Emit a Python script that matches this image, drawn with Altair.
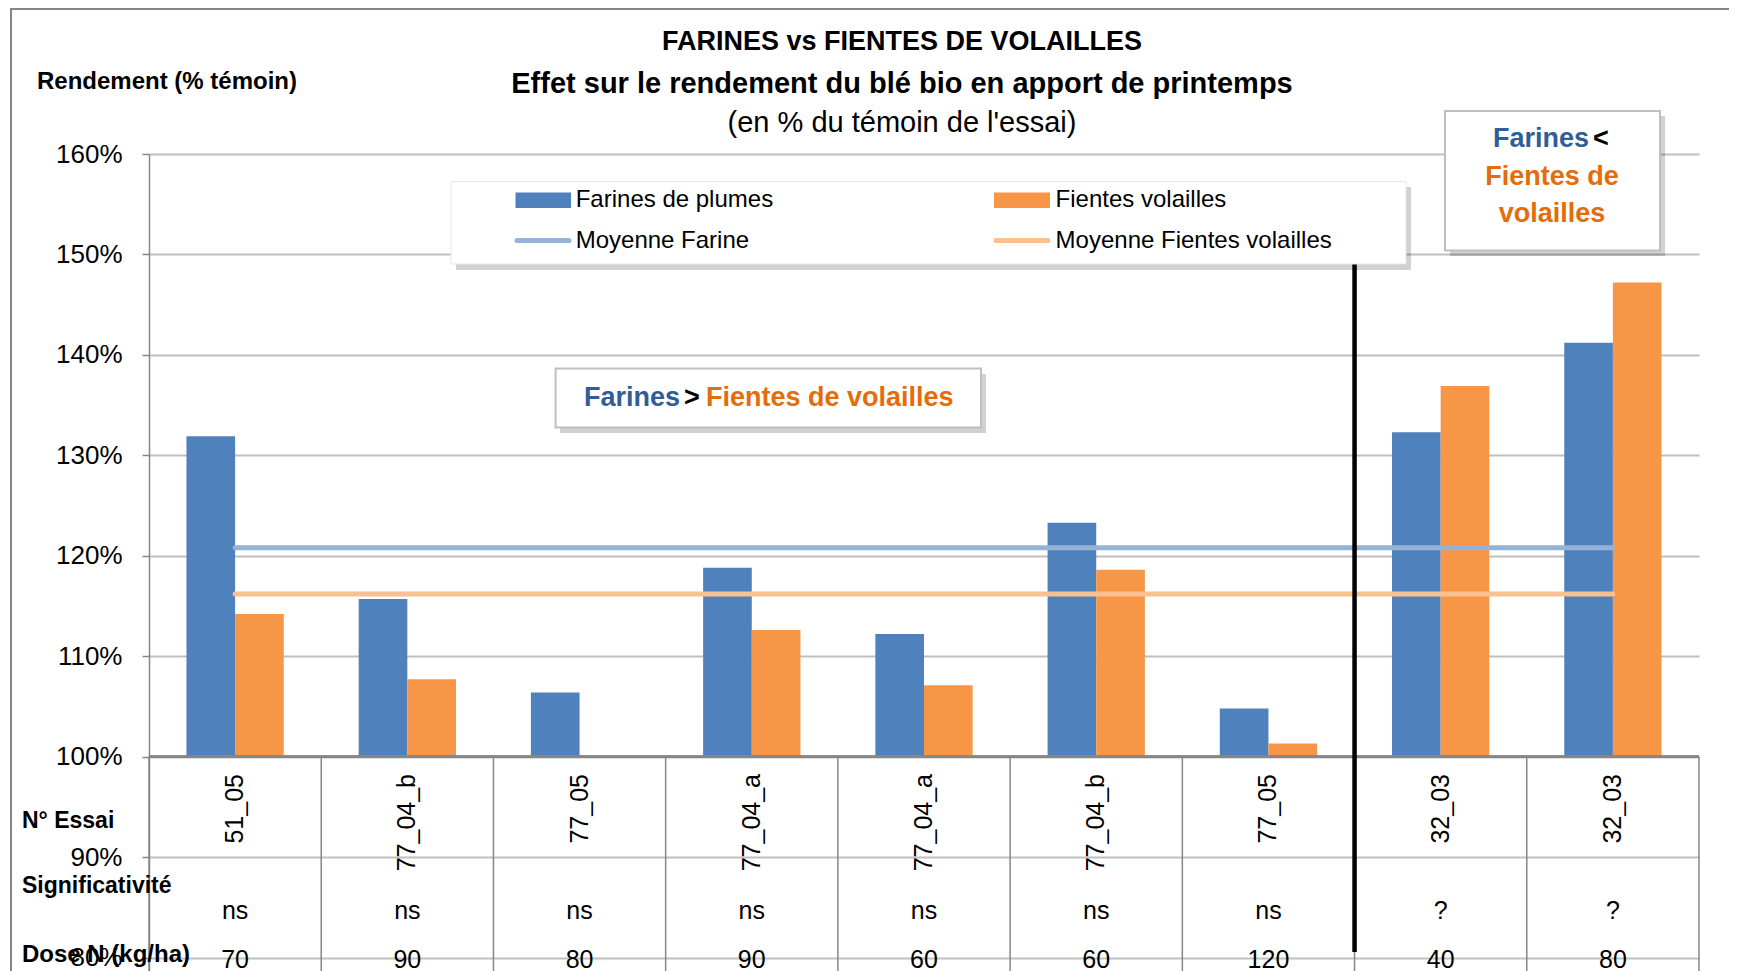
import altair as alt
import pandas as pd

# ---------------- data ----------------
essais = ["51_05", "77_04_b", "77_05", "77_04_a", "77_04_a", "77_04_b", "77_05", "32_03", "32_03"]
farines = [131.9, 115.7, 106.4, 118.8, 112.2, 123.3, 104.8, 132.3, 141.2]
fientes = [114.2, 107.7, None, 112.6, 107.1, 118.6, 101.3, 136.9, 147.2]
signif = ["ns", "ns", "ns", "ns", "ns", "ns", "ns", "?", "?"]
dose = ["70", "90", "80", "90", "60", "60", "120", "40", "80"]
moy_farine = 120.8
moy_fientes = 116.2
y_ticks = [70, 80, 90, 100, 110, 120, 130, 140, 150, 160]
series_names = ["Farines de plumes", "Fientes volailles"]

BLUE = "#4F81BD"
ORANGE = "#F79646"
BLUE_L = "#95B3D7"
ORANGE_L = "#FAC090"
DARKBLUE = "#2F5E96"
DARKORANGE = "#E46C0A"
CAL = "Liberation Sans Narrow, Liberation Sans, sans-serif"
ARIAL = "Liberation Sans, Arial, sans-serif"

W, H = 1550, 904
pos = list(range(len(essais)))

rows = []
for i in pos:
    rows.append({"pos": i, "serie": series_names[0], "value": farines[i], "base": 100})
    if fientes[i] is not None:
        rows.append({"pos": i, "serie": series_names[1], "value": fientes[i], "base": 100})
bars_df = pd.DataFrame(rows)
cat_df = pd.DataFrame({"pos": pos, "essai": essais, "signif": signif, "dose": dose,
                       "top": [100] * len(pos), "bottom": [70] * len(pos),
                       "mf": [moy_farine] * len(pos), "mv": [moy_fientes] * len(pos)})
one = pd.DataFrame({"k": [0]})

ys = alt.Scale(domain=[70, 160], nice=False, zero=False)
xs = alt.Scale(paddingInner=0, paddingOuter=0)
yaxis = alt.Axis(
    values=y_ticks, labelExpr="datum.value + '%'", grid=True, gridColor="#BFBFBF", gridWidth=2,
    domainColor="#868686", domainWidth=1.5, tickColor="#868686", tickSize=7, tickWidth=1.5,
    labelFont=CAL, labelFontSize=26, labelColor="black", labelPadding=20, title=None)

def X(**kw):
    return alt.X("pos:O", scale=xs, axis=None, **kw)

def Y(field):
    return alt.Y(field, scale=ys, axis=yaxis)

def txt(s, x, y, size, bold=False, color="black", align="center", font=CAL, angle=0):
    return alt.Chart(one).mark_text(text=s, align=align, baseline="middle", fontSize=size,
                                    fontWeight="bold" if bold else "normal", font=font,
                                    color=color, angle=angle).encode(x=alt.value(x), y=alt.value(y))

def box(x1, y1, x2, y2, fill="white", stroke="white", sw=0, opacity=1.0):
    return alt.Chart(one).mark_rect(fill=fill, stroke=stroke, strokeWidth=sw, opacity=opacity).encode(
        x=alt.value(x1), x2=alt.value(x2), y=alt.value(y1), y2=alt.value(y2))

# outer frame
frame = alt.Chart(one).mark_rect(fillOpacity=0, stroke="#868686", strokeWidth=2).encode(
    x=alt.value(-138), x2=alt.value(W + 300), y=alt.value(-145), y2=alt.value(H + 300))

bars = alt.Chart(bars_df).mark_bar().encode(
    x=X(),
    xOffset=alt.XOffset("serie:N", scale=alt.Scale(domain=series_names, paddingInner=0, paddingOuter=0.77)),
    y=Y("value:Q"),
    y2="base:Q",
    color=alt.Color("serie:N", scale=alt.Scale(domain=series_names, range=[BLUE, ORANGE]), legend=None),
)

xaxis = alt.Chart(cat_df).mark_rule(color="#868686", strokeWidth=2).encode(
    y=Y("top:Q"), x=alt.value(0), x2=alt.value(W))

seps = alt.Chart(cat_df).mark_rule(color="#868686", strokeWidth=1.5).encode(
    x=X(bandPosition=0), y=Y("top:Q"), y2="bottom:Q")
seps_end = alt.Chart(cat_df).transform_filter("datum.pos == 8").mark_rule(color="#868686", strokeWidth=1.5).encode(
    x=X(bandPosition=1), y=Y("top:Q"), y2="bottom:Q")

mean_f = alt.Chart(cat_df).mark_line(color=BLUE_L, strokeWidth=5, strokeCap="round").encode(
    x=X(), y=Y("mf:Q"))
mean_v = alt.Chart(cat_df).mark_line(color=ORANGE_L, strokeWidth=5, strokeCap="round").encode(
    x=X(), y=Y("mv:Q"))

black = alt.Chart(cat_df).transform_filter("datum.pos == 7").mark_rule(color="black", strokeWidth=4.5).encode(
    x=X(bandPosition=0), y=alt.value(60), y2=alt.value(798))

cat_lab = alt.Chart(cat_df).mark_text(angle=270, align="right", baseline="middle", font=ARIAL,
                                      fontSize=25, color="black").encode(
    x=X(), y=alt.value(620), text="essai:N")
sig_lab = alt.Chart(cat_df).mark_text(baseline="middle", font=CAL, fontSize=25, color="black").encode(
    x=X(), y=alt.value(757), text="signif:N")
dose_lab = alt.Chart(cat_df).mark_text(baseline="middle", font=CAL, fontSize=25, color="black").encode(
    x=X(), y=alt.value(806), text="dose:N")

# legend
leg = [
    box(307, 33, 1262, 116, fill="#000", opacity=0.18),
    box(302, 27.5, 1257, 110, fill="white", stroke="#E6E6E6", sw=1),
    box(366.5, 38.6, 422, 54, fill=BLUE),
    box(845, 38.6, 901, 54, fill=ORANGE),
    alt.Chart(one).mark_rule(color=BLUE_L, strokeWidth=5, strokeCap="round").encode(
        x=alt.value(368), x2=alt.value(420), y=alt.value(86.5)),
    alt.Chart(one).mark_rule(color=ORANGE_L, strokeWidth=5, strokeCap="round").encode(
        x=alt.value(847), x2=alt.value(899), y=alt.value(86.5)),
    txt("Farines de plumes", 426.7, 46.4, 24, align="left"),
    txt("Fientes volailles", 906.6, 46.4, 24, align="left"),
    txt("Moyenne Farine", 426.7, 86.5, 24, align="left"),
    txt("Moyenne Fientes volailles", 906.6, 86.5, 24, align="left"),
]

ann1 = [
    box(411, 220, 837, 279, fill="#000", opacity=0.18),
    box(406.6, 214.6, 832, 273.6, fill="white", stroke="#BFBFBF", sw=2),
    txt("Farines", 531, 243.5, 27, bold=True, color=DARKBLUE, align="right"),
    txt(">", 543, 243.5, 27, bold=True),
    txt("Fientes de volailles", 557, 243.5, 27, bold=True, color=DARKORANGE, align="left"),
]
ann2 = [
    box(1301, -38, 1516, 102, fill="#000", opacity=0.18),
    box(1296, -43, 1511, 96.5, fill="white", stroke="#BFBFBF", sw=2),
    txt("Farines", 1440, -15, 27, bold=True, color=DARKBLUE, align="right"),
    txt("<", 1452, -15, 27, bold=True),
    txt("Fientes de", 1403, 23, 27, bold=True, color=DARKORANGE),
    txt("volailles", 1403, 60, 27, bold=True, color=DARKORANGE),
]

titles = [
    txt("FARINES vs FIENTES DE VOLAILLES", 753, -112, 27, bold=True),
    txt("Effet sur le rendement du blé bio en apport de printemps", 753, -70.5, 29, bold=True),
    txt("(en % du témoin de l'essai)", 753, -31.5, 29),
    txt("Rendement (% témoin)", -112, -71.6, 24, bold=True, align="left"),
    txt("N° Essai", -127, 666.6, 23, bold=True, align="left"),
    txt("Significativité", -127, 732, 23, bold=True, align="left"),
    txt("Dose N (kg/ha)", -127, 801.4, 24, bold=True, align="left"),
]

chart = alt.layer(
    frame, bars, xaxis, seps, seps_end, mean_f, mean_v, black, cat_lab, sig_lab, dose_lab,
    *leg, *ann1, *ann2, *titles
).properties(
    width=W, height=H,
    autosize=alt.AutoSizeParams(type="none"),
    padding={"left": 141, "top": 146, "right": 30, "bottom": 10},
).configure_view(stroke=None)

chart.save("out.html", embed_options={"renderer": "svg", "actions": False})
